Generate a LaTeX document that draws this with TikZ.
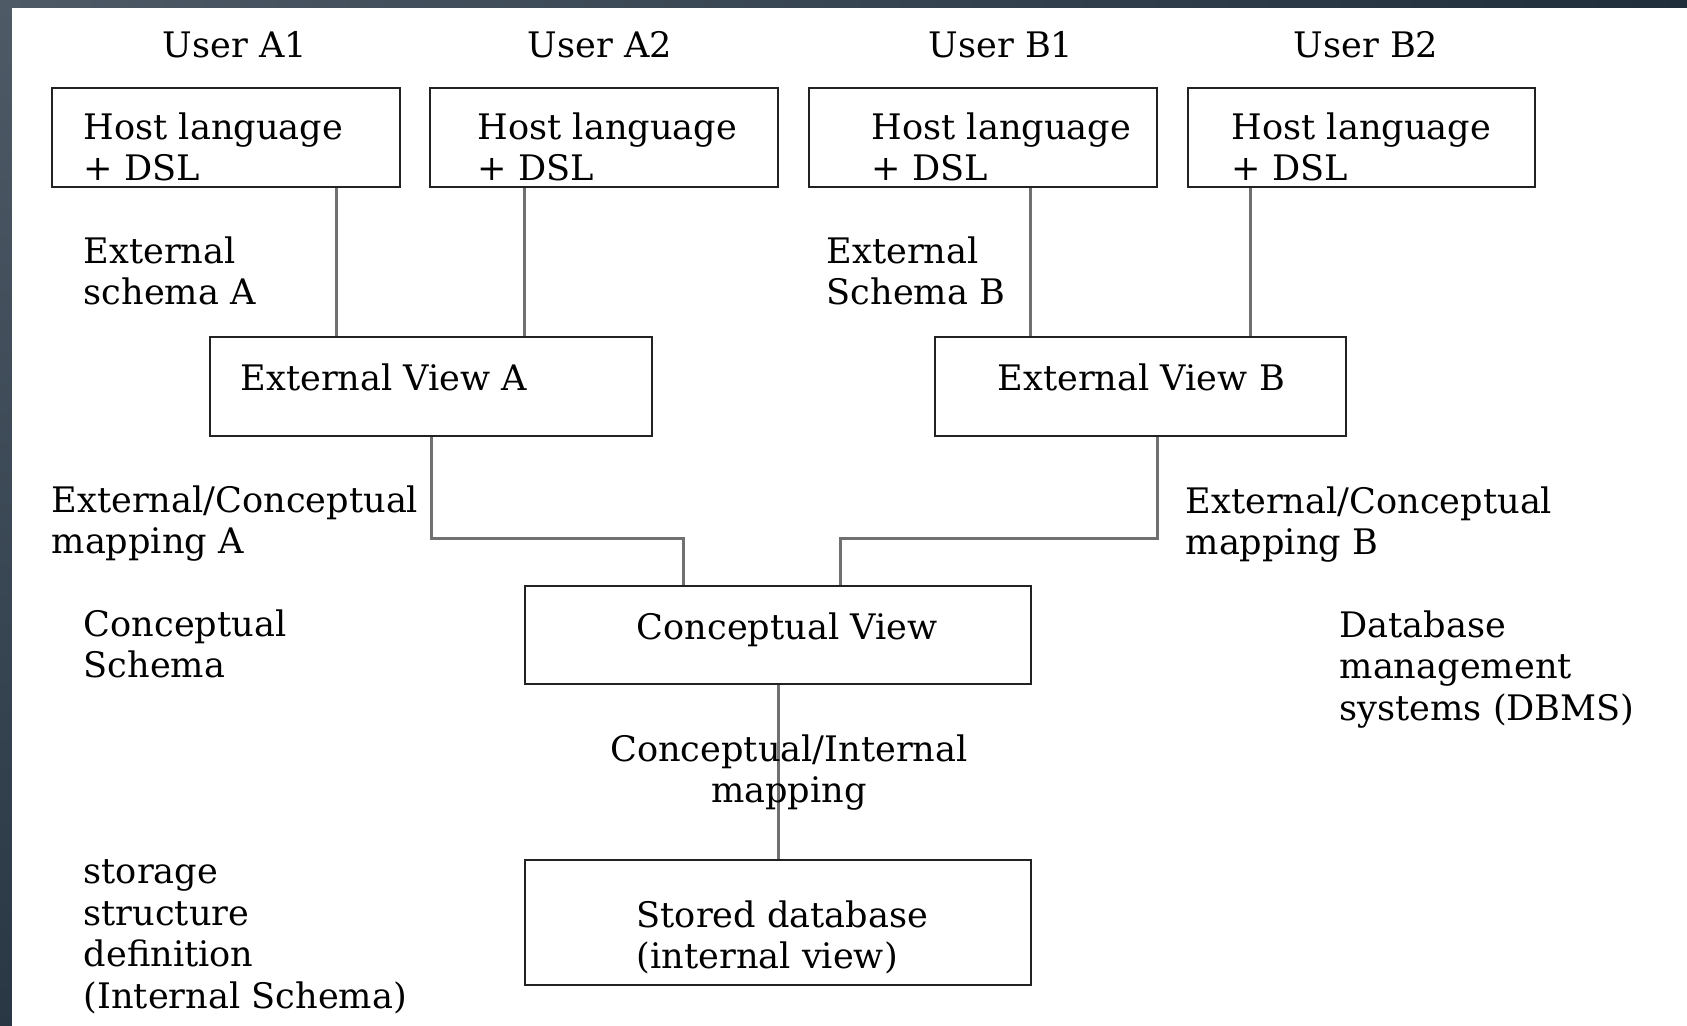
\documentclass[tikz,border=0pt]{standalone}
\usepackage{fontspec}
\setmainfont{DejaVu Serif}
\definecolor{frameleft}{RGB}{78,90,102}
\definecolor{frameright}{RGB}{32,46,60}
\definecolor{linkgray}{RGB}{112,112,112}
\definecolor{boxline}{RGB}{34,34,34}
\tikzset{
  every node/.style={font=\fontsize{10}{11.8}\selectfont, inner sep=0pt},
  box/.style={draw=boxline, line width=0.6pt, rectangle, minimum height=0.99cm},
  link/.style={draw=linkgray, line width=0.85pt},
  lbl/.style={anchor=north west, align=left, execute at begin node=\strut},
  oneline/.style={anchor=base west},
}
\begin{document}
\begin{tikzpicture}
\useasboundingbox (0,0) rectangle (16.87,-10.25);
% Frame of the slide
\fill[white] (0,0) rectangle (16.87,-10.25);
\shade[left color=frameleft, right color=frameright] (0,0) rectangle (16.87,-0.08);
\shade[top color=frameleft, bottom color=frameright!80!frameleft] (0,0) rectangle (0.12,-10.25);

% Users
\node[anchor=base] (ua1) at (2.35, -0.58) {User A1};
\node[anchor=base] (ua2) at (6.00, -0.58) {User A2};
\node[anchor=base] (ub1) at (10.01, -0.58) {User B1};
\node[anchor=base] (ub2) at (13.66, -0.58) {User B2};

% Host language boxes
\node[box, minimum width=3.48cm] (a1) at (2.26, -1.375) {};
\node[lbl] at (0.83, -1.12) {Host language\\+ DSL};
\node[box, minimum width=3.48cm] (a2) at (6.04, -1.375) {};
\node[lbl] at (4.77, -1.12) {Host language\\+ DSL};
\node[box, minimum width=3.48cm] (b1) at (9.83, -1.375) {};
\node[lbl] at (8.71, -1.12) {Host language\\+ DSL};
\node[box, minimum width=3.47cm] (b2) at (13.615, -1.375) {};
\node[lbl] at (12.31, -1.12) {Host language\\+ DSL};

% External views
\node[box, minimum width=4.42cm] (eva) at (4.31, -3.865) {};
\node[oneline] at (2.40, -3.90) {External View A};
\node[box, minimum width=4.11cm] (evb) at (11.405, -3.865) {};
\node[oneline] at (9.97, -3.90) {External View B};

% Conceptual and internal level
\node[box, minimum width=5.06cm, minimum height=0.98cm] (cv) at (7.78, -6.35) {};
\node[oneline] at (6.36, -6.39) {Conceptual View};
\node[box, minimum width=5.06cm, minimum height=1.25cm] (sdb) at (7.78, -9.225) {};
\node[lbl] at (6.36, -9.00) {Stored database\\(internal view)};

% Connectors
\draw[link] ([xshift=1.10cm]a1.south) -- ([xshift=1.10cm]a1.south |- eva.north);
\draw[link] ([xshift=-0.80cm]a2.south) -- ([xshift=-0.80cm]a2.south |- eva.north);
\draw[link] ([xshift=0.47cm]b1.south) -- ([xshift=0.47cm]b1.south |- evb.north);
\draw[link] ([xshift=-1.115cm]b2.south) -- ([xshift=-1.115cm]b2.south |- evb.north);
\draw[link] (eva.south) -- ++(0,-1.01) -| ([xshift=-0.95cm]cv.north);
\draw[link] ([xshift=0.165cm]evb.south) -- ++(0,-1.01) -| ([xshift=0.62cm]cv.north);
\draw[link] (cv.south) -- (sdb.north);

% Side labels
\node[lbl] (exa) at (0.83, -2.36) {External\\schema A};
\node[lbl] (exb) at (8.26, -2.36) {External\\Schema B};
\node[lbl] (mpa) at (0.51, -4.85) {External/Conceptual\\mapping A};
\node[lbl] (mpb) at (11.85, -4.86) {External/Conceptual\\mapping B};
\node[lbl] (csc) at (0.83, -6.09) {Conceptual\\Schema};
\node[lbl] (dbms) at (13.39, -6.10) {Database\\management\\systems (DBMS)};
\node[lbl, anchor=north, align=center] (cim) at (7.89, -7.34) {Conceptual/Internal\\mapping};
\node[lbl] (isc) at (0.83, -8.59) {storage\\structure\\definition\\(Internal Schema)};
\end{tikzpicture}
\end{document}
